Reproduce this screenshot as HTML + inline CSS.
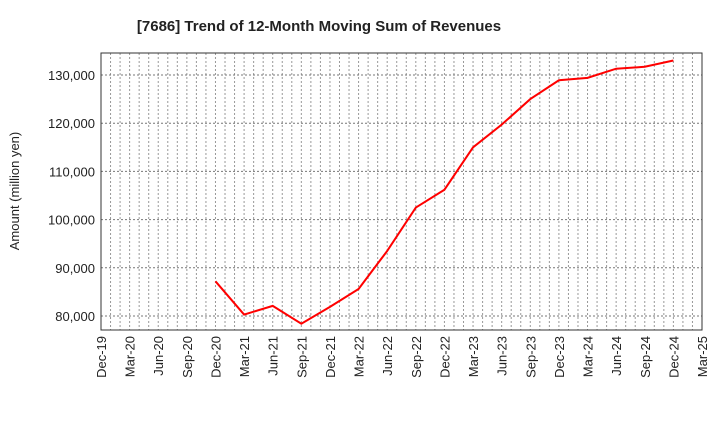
<!DOCTYPE html>
<html><head><meta charset="utf-8"><style>
body{margin:0;background:#fff;font-family:"Liberation Sans",sans-serif;}
</style></head><body>
<svg id="chart" width="720" height="440" xmlns="http://www.w3.org/2000/svg">
<text x="319" y="31" text-anchor="middle" font-size="15" font-weight="bold" fill="#222">[7686]  Trend of 12-Month Moving Sum of Revenues</text>
<text transform="translate(19,191) rotate(-90)" text-anchor="middle" font-size="13" fill="#222">Amount (million yen)</text>
<g id="grid"></g><g id="axes"></g><g id="series"></g>
</svg>
<script>
const xLabels=["Dec-19","Mar-20","Jun-20","Sep-20","Dec-20","Mar-21","Jun-21","Sep-21","Dec-21","Mar-22","Jun-22","Sep-22","Dec-22","Mar-23","Jun-23","Sep-23","Dec-23","Mar-24","Jun-24","Sep-24","Dec-24","Mar-25"];
const yTicks=[80000,90000,100000,110000,120000,130000];
const yTickLabels=["80,000","90,000","100,000","110,000","120,000","130,000"];
const seriesStart=4;
const revenues=[87200,80300,82100,78400,81900,85600,93500,102500,106200,115000,119700,125000,128900,129400,131300,131700,133000];
const L=101,R=702,T=53,B=330,yMin=77100,yMax=134560;
const NS="http://www.w3.org/2000/svg";
const xs=i=>L+(R-L)*i/(xLabels.length-1);
const ys=v=>B-(v-yMin)/(yMax-yMin)*(B-T);
function mk(tag,attrs,parent){const e=document.createElementNS(NS,tag);for(const k in attrs)e.setAttribute(k,attrs[k]);parent.appendChild(e);return e;}
const grid=document.getElementById('grid'),axes=document.getElementById('axes'),ser=document.getElementById('series');
const nMonths=(xLabels.length-1)*3;
for(let m=1;m<nMonths;m++){const x=L+(R-L)*m/nMonths;
const g=mk('line',{x1:x,x2:x,y1:T,y2:B,stroke:'#999','stroke-dasharray':'2,2','stroke-width':1},grid);

}
yTicks.forEach((v,i)=>{const y=ys(v);
const g=mk('line',{x1:L,x2:R,y1:y,y2:y,stroke:'#777','stroke-dasharray':'2,2','stroke-width':1},grid);


const t=mk('text',{x:L-6,y:y+5,'text-anchor':'end','font-size':13,fill:'#222'},axes);t.textContent=yTickLabels[i];

});
xLabels.forEach((lab,i)=>{const x=xs(i);
const t=mk('text',{transform:`translate(${x+5},${B+6}) rotate(-90)`,'text-anchor':'end','font-size':13,fill:'#222'},axes);t.textContent=lab;

});
const frame=mk('rect',{x:L,y:T,width:R-L,height:B-T,fill:'none',stroke:'#333','stroke-width':1},axes);


const pts=revenues.map((v,i)=>xs(seriesStart+i)+','+ys(v)).join(' ');
const line=mk('polyline',{points:pts,fill:'none',stroke:'#f00','stroke-width':2},ser);


</script>
</body></html>
